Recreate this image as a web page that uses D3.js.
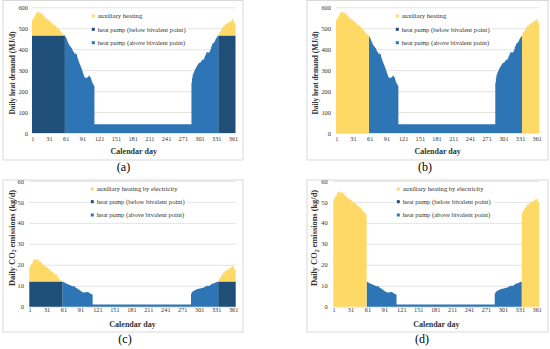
<!DOCTYPE html>
<html><head><meta charset="utf-8">
<script src="https://cdn.jsdelivr.net/npm/d3@7"></script>
<style>body{margin:0;background:#fff} svg{display:block} text{font-family:"Liberation Serif","Times New Roman",serif;fill:#333}</style>
</head><body>
<svg id="chart" width="550" height="349"></svg>
<script>
// ---------------- DATA ----------------
// Daily heat demand (MJ/d) (a)/(b), day 1..365
const heatDemand = [
537,545,541,552,558,556,566,576,572,578,
575,581,572,578,570,574,576,566,571,562,
565,558,552,556,549,546,541,548,539,543,
537,533,538,528,531,524,521,526,515,519,
512,516,509,505,510,501,498,503,496,492,
488,484,477,481,474,470,469,472,466,462,
458,452,447,440,432,428,421,418,414,410,
407,403,398,392,388,384,378,380,377,379,
372,362,352,345,338,330,324,318,311,304,
296,288,280,272,266,263,265,262,266,264,
268,272,270,274,268,262,254,246,240,234,
230,226,
42,42,42,42,42,42,42,42,42,42,
42,42,42,42,42,42,42,42,42,42,
42,42,42,42,42,42,42,42,42,42,
42,42,42,42,42,42,42,42,42,42,
42,42,42,42,42,42,42,42,42,42,
42,42,42,42,42,42,42,42,42,42,
42,42,42,42,42,42,42,42,42,42,
42,42,42,42,42,42,42,42,42,42,
42,42,42,42,42,42,42,42,42,42,
42,42,42,42,42,42,42,42,42,42,
42,42,42,42,42,42,42,42,42,42,
42,42,42,42,42,42,42,42,42,42,
42,42,42,42,42,42,42,42,42,42,
42,42,42,42,42,42,42,42,42,42,
42,42,42,42,42,42,42,42,42,42,
42,42,42,42,42,42,42,42,42,42,
42,42,42,42,42,42,42,42,42,42,
42,42,42,42,
241,262,277,284,290,296,303,309,313,318,
322,327,331,333,336,334,339,342,345,349,
352,350,355,360,367,373,380,388,386,384,
386,383,388,394,400,410,418,424,428,430,
432,436,442,448,452,456,460,463,
468,476,485,482,487,495,501,498,506,512,
515,511,518,521,519,524,525,522,527,528,
531,534,537,533,540,545,538,542,524,532,522
];
const hpCapacity = 465;     // MJ/d delivered by heat pump at bivalent point
const hpEmission = 0.0258;  // kg CO2 per MJ of heat pump heat (12 kg/d at 465 MJ/d)
const auxEmission = 0.095;  // kg CO2 per MJ of electric auxiliary heat

const xTickDays = [1,31,61,91,121,151,181,211,241,271,301,331,361];
const heatTicks = [0,100,200,300,400,500,600];
const co2Ticks = [0,10,20,30,40,50,60];
const legendHeat = ["auxiliary heating","heat pump (below bivalent point)","heat pump (above bivalent point)"];
const legendCO2 = ["auxiliary heating by electricity","heat pump (below bivalent point)","heat pump (above bivalent point)"];
const panelLabels = ["(a)","(b)","(c)","(d)"];
const xTitle = "Calendar day";

// ---------------- STYLE / LAYOUT ----------------
const colors = {aux:"#FFD966", below:"#1F4E79", above:"#2E75B6"};
const keys = ["below","above","aux"];
const legendKeys = ["aux","below","above"];

const panels = [
 {id:0, mode:"heatHybrid", frame:[3,0.5,243,160], px:[32,235.5], py:[133,7.3], max:600, ticks:heatTicks,
  ylabR:28, ytitleX:12, ytitleY:73, ytitleSize:7.4, legX:93.3, legY:[16,29.3,42.7], legBox:[90,9.5,188,47], legend:legendHeat,
  xtickY:141, xtitleY:151, lab:[123.5,167]},
 {id:1, mode:"heatMono", frame:[307,0.5,548,160], px:[336,539.3], py:[133,7.3], max:600, ticks:heatTicks,
  ylabR:331, ytitleX:315, ytitleY:73, ytitleSize:7.4, legX:397.3, legY:[16,29.3,42.7], legBox:[394,9.5,492,47], legend:legendHeat,
  xtickY:141, xtitleY:151, lab:[425,167]},
 {id:2, mode:"co2Hybrid", frame:[3,180,243,332], px:[29.3,235.7], py:[306.7,181], max:60, ticks:co2Ticks,
  ylabR:24, ytitleX:12, ytitleY:238, ytitleSize:8.4, legX:92.3, legY:[189,201.7,215], legBox:[89,183,188,221], legend:legendCO2,
  xtickY:312.5, xtitleY:324.5, lab:[125,339]},
 {id:3, mode:"co2Mono", frame:[307,180,548,332], px:[333.3,539.3], py:[306.7,181], max:60, ticks:co2Ticks,
  ylabR:327.7, ytitleX:314.5, ytitleY:238, ytitleSize:8.4, legX:398.3, legY:[189,201.7,215], legBox:[395,183,495,221], legend:legendCO2,
  xtickY:312.5, xtitleY:324.5, lab:[422,339]}
];

function rowsFor(mode){
  return heatDemand.map(q=>{
    const isBelow = q > hpCapacity;
    const r = {below:0, above:0, aux:0};
    if (mode==="heatHybrid"){ if(isBelow){r.below=hpCapacity; r.aux=q-hpCapacity;} else r.above=q; }
    else if (mode==="heatMono"){ if(isBelow){r.aux=q;} else r.above=q; }
    else if (mode==="co2Hybrid"){ if(isBelow){r.below=hpCapacity*hpEmission; r.aux=(q-hpCapacity)*auxEmission;} else r.above=q*hpEmission; }
    else { if(isBelow){r.aux=q*auxEmission;} else r.above=q*hpEmission; }
    return r;
  });
}

const svg = d3.select("#chart");

panels.forEach(p=>{
  const g = svg.append("g");
  const [fx0,fy0,fx1,fy1] = p.frame;
  g.append("rect").attr("x",fx0).attr("y",fy0).attr("width",fx1-fx0).attr("height",fy1-fy0)
   .attr("fill","#fff").attr("stroke","#d0d0d0").attr("stroke-width",0.8);

  const x = d3.scaleLinear().domain([0,365]).range(p.px);
  const xc = d3.scaleLinear().domain([0.5,365.5]).range(p.px);
  const y = d3.scaleLinear().domain([0,p.max]).range(p.py);

  // gridlines
  g.append("g").attr("transform",`translate(${p.px[0]},0)`)
   .call(d3.axisLeft(y).tickValues(p.ticks).tickSize(-(p.px[1]-p.px[0])).tickFormat(""))
   .call(a=>{a.select(".domain").remove(); a.selectAll("line").attr("stroke","#d9d9d9").attr("stroke-width",0.7);});

  // stacked daily columns
  const rows = rowsFor(p.mode);
  const series = d3.stack().keys(keys)(rows);
  const area = d3.area().x(d=>x(d.x)).y0(d=>y(d.y0)).y1(d=>y(d.y1));
  series.forEach(s=>{
    const pts = [];
    s.forEach((v,i)=>{ pts.push({x:i,y0:v[0],y1:v[1]}); pts.push({x:i+1,y0:v[0],y1:v[1]}); });
    g.append("path").datum(pts).attr("d",area).attr("fill",colors[s.key]);
  });

  // y tick labels
  g.append("g").attr("transform",`translate(${p.ylabR},0)`)
   .call(d3.axisLeft(y).tickValues(p.ticks).tickSize(0).tickPadding(0))
   .call(a=>{a.select(".domain").remove(); a.selectAll("text").attr("font-size",6.4).attr("font-family",null).attr("fill","#333");});

  // x tick labels
  g.append("g").attr("transform",`translate(0,${p.xtickY-4.5})`)
   .call(d3.axisBottom(xc).tickValues(xTickDays).tickSize(0).tickPadding(0).tickFormat(d=>d))
   .call(a=>{a.select(".domain").remove(); a.selectAll("text").attr("font-size",6.3).attr("font-family",null).attr("fill","#333");});

  // x title
  g.append("text").attr("x",(p.px[0]+p.px[1])/2).attr("y",p.xtitleY).attr("dy","0.35em")
   .attr("text-anchor","middle").attr("font-size",8).attr("font-weight","bold").text(xTitle);

  // y title
  const yt = g.append("text").attr("transform",`translate(${p.ytitleX},${p.ytitleY}) rotate(-90)`)
   .attr("dy","0.35em").attr("text-anchor","middle").attr("font-size",p.ytitleSize).attr("font-weight","bold");
  if (p.max===600) yt.text("Daily heat demand (MJ/d)");
  else { yt.append("tspan").text("Daily CO"); yt.append("tspan").attr("font-size",p.ytitleSize*0.68).attr("dy","0.25em").text("2");
         yt.append("tspan").attr("dy","-0.17em").text(" emissions (kg/d)"); }

  // legend
  const [lx0,ly0,lx1,ly1]=p.legBox;
  g.append("rect").attr("x",lx0).attr("y",ly0).attr("width",lx1-lx0).attr("height",ly1-ly0).attr("fill","#fff");
  legendKeys.forEach((k,i)=>{
    g.append("rect").attr("x",p.legX-1.5).attr("y",p.legY[i]-1.5).attr("width",3).attr("height",3).attr("fill",colors[k]);
    g.append("text").attr("x",p.legX+4.4).attr("y",p.legY[i]).attr("dy","0.35em").attr("font-size",6.6).text(p.legend[i]);
  });

  // panel label
  svg.append("text").attr("x",p.lab[0]).attr("y",p.lab[1]).attr("dy","0.35em").attr("text-anchor","middle")
   .attr("font-size",12).style("fill","#000").text(panelLabels[p.id]);
});
</script>
</body></html>
